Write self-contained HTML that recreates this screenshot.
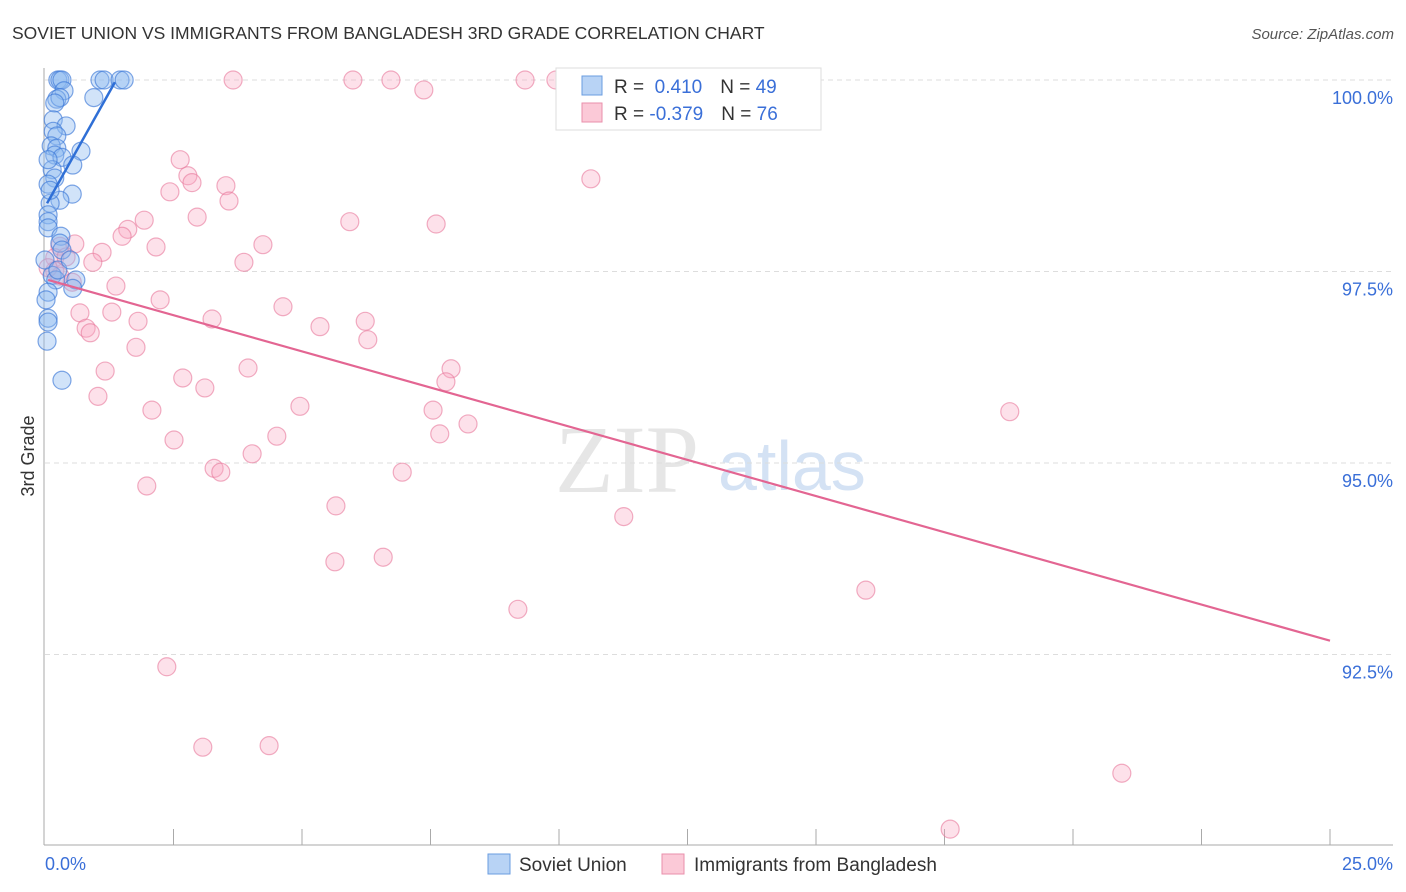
<!DOCTYPE html>
<html><head><meta charset="utf-8"><style>
body{margin:0;background:#fff;font-family:"Liberation Sans",sans-serif;}
svg{display:block}
</style></head><body>
<svg id="chart" width="1406" height="892" xmlns="http://www.w3.org/2000/svg">
<text x="12" y="39" font-size="17.5" fill="#333">SOVIET UNION VS IMMIGRANTS FROM BANGLADESH 3RD GRADE CORRELATION CHART</text>
<text x="1394" y="39" font-size="15" fill="#555" font-style="italic" text-anchor="end">Source: ZipAtlas.com</text>
<text transform="translate(34,456) rotate(-90)" font-size="18" fill="#333" text-anchor="middle">3rd Grade</text>
<g><text x="555" y="492" font-size="96" fill="#e6e6e6" font-family="Liberation Serif,serif">ZIP</text><text x="718" y="490" font-size="70" fill="#d4e2f4">atlas</text></g>
<g id="grid"></g><g id="axes"></g><g id="pts"></g><g id="trend"></g>
<g>
<rect x="556" y="68" width="265" height="62" fill="#fff" stroke="#ddd"/>
<rect x="582" y="76" width="20" height="19" fill="#b8d3f5" stroke="#6a9de0"/>
<rect x="582" y="103" width="20" height="19" fill="#fbc9d7" stroke="#ea8fab"/>
<text x="614" y="93" font-size="19" fill="#333">R = <tspan fill="#3a6fd8">&#160;0.410</tspan><tspan dx="18">N = </tspan><tspan fill="#3a6fd8">49</tspan></text>
<text x="614" y="120" font-size="19" fill="#333">R = <tspan fill="#3a6fd8">-0.379</tspan><tspan dx="18">N = </tspan><tspan fill="#3a6fd8">76</tspan></text>
</g>
<g>
<rect x="488" y="854" width="22" height="20" fill="#b8d3f5" stroke="#6a9de0"/>
<text x="519" y="871" font-size="19" fill="#333">Soviet Union</text>
<rect x="662" y="854" width="22" height="20" fill="#fbc9d7" stroke="#ea8fab"/>
<text x="694" y="871" font-size="19" fill="#333">Immigrants from Bangladesh</text>
</g>
</svg>
<script>
const yTicks=[100,97.5,95,92.5];
const yTickLabels=["100.0%","97.5%","95.0%","92.5%"];
const xTickCount=10;
const sovietX=[0.25,0.29,0.33,1.07,1.15,1.46,1.54,0.37,0.23,0.29,0.95,0.19,0.16,0.41,0.16,0.23,0.12,0.23,0.19,0.33,0.70,0.54,0.14,0.19,0.06,0.53,0.29,0.10,0.06,0.06,0.06,0.31,0.29,0.33,0.14,0.21,0.60,0.54,0.06,0.06,0.06,0.04,0.33,0.06,0.10,0.0,0.25,0.02,0.49];
const sovietY=[100,100,100,100,100,100,100,99.86,99.75,99.77,99.77,99.70,99.48,99.40,99.33,99.27,99.14,99.11,99.02,98.99,99.07,98.89,98.83,98.72,98.64,98.51,98.43,98.39,98.24,98.15,98.07,97.96,97.87,97.78,97.45,97.39,97.39,97.28,97.23,96.89,96.84,96.59,96.08,98.96,98.56,97.65,97.52,97.13,97.65];
const bangX=[3.66,5.99,6.73,9.34,9.94,7.37,2.63,2.78,2.86,2.43,3.52,3.58,2.96,1.93,1.61,1.50,5.93,7.61,10.62,2.16,4.24,1.11,0.29,0.58,0.93,0.19,0.41,3.87,0.19,0.29,0.53,1.38,2.24,4.63,1.81,3.25,6.23,0.68,0.80,1.30,0.88,5.35,6.28,1.77,3.95,1.17,7.90,7.80,2.68,3.11,1.03,2.08,4.96,7.55,8.23,18.77,7.68,2.51,4.51,4.03,3.29,3.42,6.95,1.98,5.66,11.26,5.64,6.58,9.20,15.97,2.37,3.07,4.36,20.95,17.61,0.06];
const bangY=[100,100,100,100,100,99.87,98.96,98.75,98.66,98.54,98.62,98.42,98.21,98.17,98.05,97.96,98.15,98.12,98.71,97.82,97.85,97.75,97.83,97.86,97.62,97.68,97.69,97.62,97.51,97.44,97.36,97.31,97.13,97.04,96.85,96.88,96.85,96.96,96.76,96.97,96.70,96.78,96.61,96.51,96.24,96.20,96.23,96.06,96.11,95.98,95.87,95.69,95.74,95.69,95.51,95.67,95.38,95.30,95.35,95.12,94.93,94.88,94.88,94.70,94.44,94.30,93.71,93.77,93.09,93.34,92.34,91.29,91.31,90.95,90.22,97.55];
const sovietTrendX=[0.04,1.36], sovietTrendY=[98.39,99.97];
const bangTrendX=[0.06,25], bangTrendY=[97.39,92.68];
const NS="http://www.w3.org/2000/svg";
const xs=v=>45+v*(1285/25);
const ys=v=>80+(100-v)*(191.5/2.5);
function mk(tag,parent,attrs){const e=document.createElementNS(NS,tag);for(const k in attrs)e.setAttribute(k,attrs[k]);document.getElementById(parent).appendChild(e);return e;}
yTicks.forEach((t,i)=>{
 const g=mk('line','grid',{x1:45,x2:1393,y1:ys(t),y2:ys(t),stroke:'#ddd','stroke-dasharray':'5,4'});
 
 
 const l=mk('text','grid',{x:1393,y:ys(t)+24,'font-size':18,fill:'#3a6fd8','text-anchor':'end'});
 l.textContent=yTickLabels[i];
 
 
});
const ya=mk('line','axes',{x1:44,x2:44,y1:68,y2:845,stroke:'#aaa'});


const xa=mk('line','axes',{x1:44,x2:1393,y1:845,y2:845,stroke:'#aaa'});


for(let i=1;i<=xTickCount;i++){const x=xs(i*25/xTickCount);
 const t=mk('line','axes',{x1:x,x2:x,y1:829,y2:845,stroke:'#aaa'});
 
 }
const x0=mk('text','axes',{x:45,y:870,'font-size':18,fill:'#3a6fd8'});x0.textContent='0.0%';


const x1=mk('text','axes',{x:1393,y:870,'font-size':18,fill:'#3a6fd8','text-anchor':'end'});x1.textContent='25.0%';


bangX.forEach((v,i)=>{const c=mk('circle','pts',{cx:xs(v),cy:ys(bangY[i]),r:9,fill:'rgba(248,170,195,0.35)',stroke:'rgba(232,120,155,0.6)','stroke-width':1.2});
 
 });
sovietX.forEach((v,i)=>{const c=mk('circle','pts',{cx:xs(v),cy:ys(sovietY[i]),r:9,fill:'rgba(140,185,240,0.4)',stroke:'rgba(60,120,215,0.65)','stroke-width':1.2});
 
 });
const tb=mk('line','trend',{x1:xs(sovietTrendX[0]),y1:ys(sovietTrendY[0]),x2:xs(sovietTrendX[1]),y2:ys(sovietTrendY[1]),stroke:'#2f6fd6','stroke-width':2.5});


const tp=mk('line','trend',{x1:xs(bangTrendX[0]),y1:ys(bangTrendY[0]),x2:xs(bangTrendX[1]),y2:ys(bangTrendY[1]),stroke:'#e36592','stroke-width':2.2});


</script>
</body></html>
